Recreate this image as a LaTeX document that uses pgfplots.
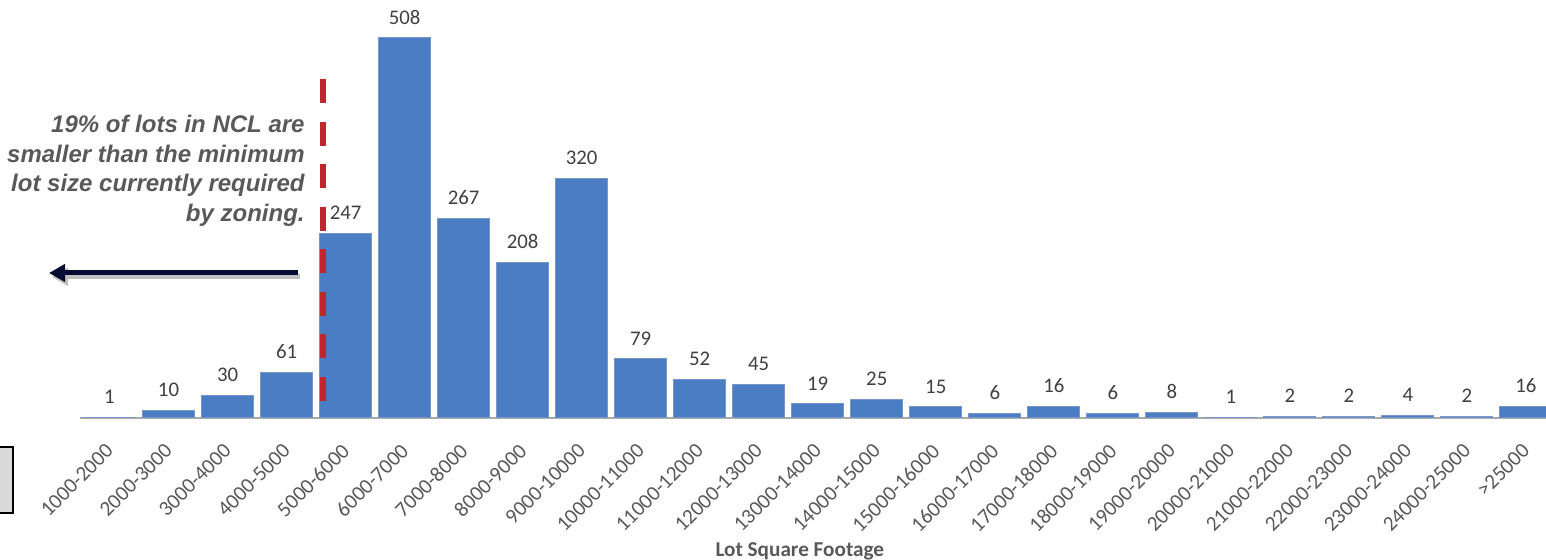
\documentclass[border=0pt]{standalone}
\usepackage{pgfplots}
\pgfplotsset{compat=1.18}
\usepackage{fontspec}
\setmainfont{Carlito}
\newfontfamily\arialfont{Liberation Sans}
\usetikzlibrary{arrows.meta}
\definecolor{barblue}{RGB}{74,125,195}
\definecolor{baredge}{RGB}{120,150,200}
\definecolor{labgray}{RGB}{89,89,89}
\definecolor{numgray}{RGB}{64,64,64}
\definecolor{zonered}{RGB}{190,40,45}
\definecolor{navy}{RGB}{5,10,50}

\begin{document}
\begin{tikzpicture}
\useasboundingbox (0,0) rectangle (773pt,280pt);
\clip (0,0) rectangle (773pt,280pt);

\begin{axis}[
    at={(40pt,71pt)}, anchor=south west,
    scale only axis,
    width=733pt, height=190pt,
    xmin=-0.5, xmax=24.34,
    ymin=0, ymax=508,
    ybar, bar width=0.88,
    axis x line=bottom, axis y line=none,
    x axis line style={-, draw={rgb,255:red,170;green,170;blue,170}, line width=1pt},
    xtick={0,...,24},
    xticklabels={1000-2000,2000-3000,3000-4000,4000-5000,5000-6000,6000-7000,7000-8000,8000-9000,9000-10000,10000-11000,11000-12000,12000-13000,13000-14000,14000-15000,15000-16000,16000-17000,17000-18000,18000-19000,19000-20000,20000-21000,21000-22000,22000-23000,23000-24000,24000-25000,>25000},
    major tick length=0pt,
    ytick=\empty,
    xticklabel style={font=\fontsize{10.6}{12}\selectfont, text=labgray, inner sep=0pt,
        xshift=-2.5pt, yshift=-12pt, rotate=45, anchor=north east},
    xlabel={Lot Square Footage},
    xlabel style={at={(axis description cs:0.491,-0.352)}, anchor=center,
        font=\bfseries\fontsize{10.6}{12}\selectfont, text=labgray},
    /pgf/number format/assume math mode=true,
    nodes near coords,
    every node near coord/.append style={font=\fontsize{10.4}{12}\selectfont, text=numgray,
        anchor=south, inner sep=0pt, yshift=6.5pt},
    clip=false,
]
\addplot[fill=barblue, draw=baredge, line width=0.5pt] coordinates {
    (0,1) (1,10) (2,30) (3,61) (4,247) (5,508) (6,267) (7,208) (8,320)
    (9,79) (10,52) (11,45) (12,19) (13,25) (14,15) (15,6) (16,16) (17,6)
    (18,8) (19,1) (20,2) (21,2) (22,4) (23,2) (24,16)
};
% zoning threshold
\draw[zonered, line width=3pt, dash pattern=on 12pt off 9.25pt]
    (axis cs:3.61,453) -- (axis cs:3.61,22);
\end{axis}

% annotation
\begin{scope}[every node/.style={anchor=base east, inner sep=0pt,
        font=\arialfont\bfseries\itshape\fontsize{12}{14}\selectfont, text=labgray}]
\node at (152.5pt,213.5pt) {19\% of lots in NCL are};
\node at (152.5pt,198.8pt) {smaller than the minimum};
\node at (152.5pt,184pt) {lot size currently required};
\node at (152.5pt,169.3pt) {by zoning.};
\end{scope}

% arrow with soft shadow
\draw[black!25, line width=2.5pt, -{Triangle[length=8pt,width=8.5pt]}]
    (150pt,141.5pt) -- (26pt,141.5pt);
\draw[navy, line width=2.5pt, -{Triangle[length=8pt,width=8.5pt]}]
    (149pt,143.5pt) -- (24.5pt,143.5pt);

% partial box at left edge
\draw[black, line width=1pt, fill={rgb,255:red,217;green,217;blue,217}]
    (-10pt,23.5pt) rectangle (6.5pt,56.5pt);
\end{tikzpicture}
\end{document}
